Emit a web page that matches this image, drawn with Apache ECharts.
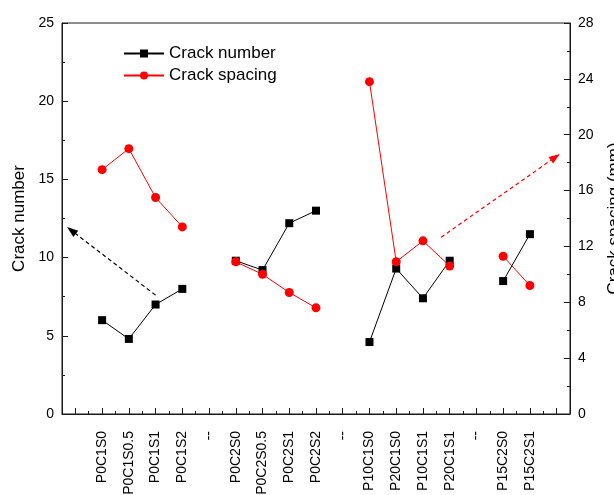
<!DOCTYPE html>
<html>
<head>
<meta charset="utf-8">
<script src="https://cdn.jsdelivr.net/npm/echarts@6/dist/echarts.min.js"></script>
<style>
html,body{margin:0;padding:0;background:#fff;}
#chart{width:614px;height:495px;}
</style>
</head>
<body>
<div id="chart"></div>
<script>
// ---- data ----
const categories = ['', 'P0C1S0', 'P0C1S0.5', 'P0C1S1', 'P0C1S2', '--', 'P0C2S0', 'P0C2S0.5', 'P0C2S1', 'P0C2S2', '--', 'P10C1S0', 'P20C1S0', 'P10C1S1', 'P20C1S1', '--', 'P15C2S0', 'P15C2S1', ''];
const crackNumber = [null, 6.0, 4.8, 7.0, 8.0, null, 9.8, 9.2, 12.2, 13.0, null, 4.6, 9.3, 7.4, 9.8, null, 8.5, 11.5, null];
const crackSpacing = [null, 17.5, 19.0, 15.5, 13.4, null, 10.9, 10.0, 8.7, 7.6, null, 23.8, 10.9, 12.4, 10.6, null, 11.3, 9.2, null];
const leftAxisRange = [0, 25, 5];
const rightAxisRange = [0, 28, 4];
// annotation arrows: [fromIndex, fromValue] -> [toIndex, toValue], axis: 0 = left, 1 = right
const arrowBlack = { from: [3, 7.6], to: [-0.31, 11.95], axis: 0 };
const arrowRed = { from: [13.68, 12.66], to: [18.12, 18.62], axis: 1 };

const FONT = 'Liberation Sans, Arial, sans-serif';
const AX = '#1a1a1a';
const chart = echarts.init(document.getElementById('chart'), null, { renderer: 'canvas' });

const option = {
  backgroundColor: '#ffffff',
  animation: false,
  grid: { left: 62, right: 44, top: 23, bottom: 81, show: true, borderColor: AX, borderWidth: 1, backgroundColor: 'transparent', containLabel: false, outerBoundsMode: 'none' },
  legend: {
    orient: 'vertical', left: 118, top: 40, itemWidth: 40, itemHeight: 10, itemGap: 5,
    textStyle: { fontFamily: FONT, fontSize: 17, color: '#000' },
    data: ['Crack number', 'Crack spacing']
  },
  xAxis: [
    {
      type: 'category', data: categories, position: 'bottom', boundaryGap: true,
      axisLine: { show: true, lineStyle: { color: AX, width: 1 } },
      axisTick: { show: true, inside: true, alignWithLabel: true, length: 6, lineStyle: { color: AX } },
      axisLabel: { interval: 0, rotate: 90, margin: 17, fontFamily: FONT, fontSize: 14, color: '#000' },
      splitLine: { show: false }
    },
    {
      type: 'category', data: categories, position: 'bottom', boundaryGap: true,
      axisLine: { show: false },
      axisTick: { show: true, inside: true, interval: 0, length: 3, lineStyle: { color: AX } },
      axisLabel: { show: false },
      splitLine: { show: false }
    }
  ],
  yAxis: [
    {
      type: 'value', min: leftAxisRange[0], max: leftAxisRange[1], interval: leftAxisRange[2], position: 'left',
      name: 'Crack number', nameLocation: 'middle', nameGap: 30, nameRotate: 90,
      nameTextStyle: { fontFamily: FONT, fontSize: 17, color: '#000' },
      axisLine: { show: true, lineStyle: { color: AX, width: 1 } },
      axisTick: { show: true, inside: true, length: 6, lineStyle: { color: AX } },
      minorTick: { show: true, splitNumber: 2, length: 3, lineStyle: { color: AX } },
      axisLabel: { margin: 8, fontFamily: FONT, fontSize: 14, color: '#000' },
      splitLine: { show: false }
    },
    {
      type: 'value', min: rightAxisRange[0], max: rightAxisRange[1], interval: rightAxisRange[2], position: 'right',
      name: 'Crack spacing (mm)', nameLocation: 'middle', nameGap: 36, nameRotate: 90,
      nameTextStyle: { fontFamily: FONT, fontSize: 17, color: '#000' },
      axisLine: { show: true, lineStyle: { color: AX, width: 1 } },
      axisTick: { show: true, inside: true, length: 6, lineStyle: { color: AX } },
      minorTick: { show: true, splitNumber: 2, length: 3, lineStyle: { color: AX } },
      axisLabel: { margin: 8, fontFamily: FONT, fontSize: 14, color: '#000' },
      splitLine: { show: false }
    }
  ],
  series: [
    {
      name: 'Crack number', type: 'line', xAxisIndex: 0, yAxisIndex: 0, data: crackNumber,
      connectNulls: false, symbol: 'rect', symbolSize: 8,
      itemStyle: { color: '#000' }, lineStyle: { color: '#000', width: 1 }
    },
    {
      name: 'Crack spacing', type: 'line', xAxisIndex: 0, yAxisIndex: 1, data: crackSpacing,
      connectNulls: false, symbol: 'circle', symbolSize: 9,
      itemStyle: { color: '#ff0000' }, lineStyle: { color: '#ff0000', width: 1 }
    }
  ]
};
chart.setOption(option);

function toPx(pt, axis) {
  const i0 = Math.max(Math.floor(pt[0]), 0);
  const a = chart.convertToPixel({ xAxisIndex: 0, yAxisIndex: axis }, [i0, pt[1]]);
  const b = chart.convertToPixel({ xAxisIndex: 0, yAxisIndex: axis }, [i0 + 1, pt[1]]);
  const band = b[0] - a[0];
  return [a[0] + (pt[0] - i0) * band, a[1]];
}
function arrowGraphic(arw, color) {
  const p0 = toPx(arw.from, arw.axis);
  const p1 = toPx(arw.to, arw.axis);
  const dx = p1[0] - p0[0], dy = p1[1] - p0[1];
  const len = Math.sqrt(dx * dx + dy * dy);
  const ux = dx / len, uy = dy / len;
  const hl = 11, hw = 4;
  const base = [p1[0] - ux * hl, p1[1] - uy * hl];
  return [
    { type: 'line', silent: true, z: 100,
      shape: { x1: p0[0], y1: p0[1], x2: base[0], y2: base[1] },
      style: { stroke: color, lineWidth: 1.2, lineDash: [4, 3] } },
    { type: 'polygon', silent: true, z: 100,
      shape: { points: [p1, [base[0] - uy * hw, base[1] + ux * hw], [base[0] + uy * hw, base[1] - ux * hw]] },
      style: { fill: color } }
  ];
}
chart.setOption({ graphic: arrowGraphic(arrowBlack, '#000').concat(arrowGraphic(arrowRed, '#ff0000')) });
</script>
</body>
</html>
